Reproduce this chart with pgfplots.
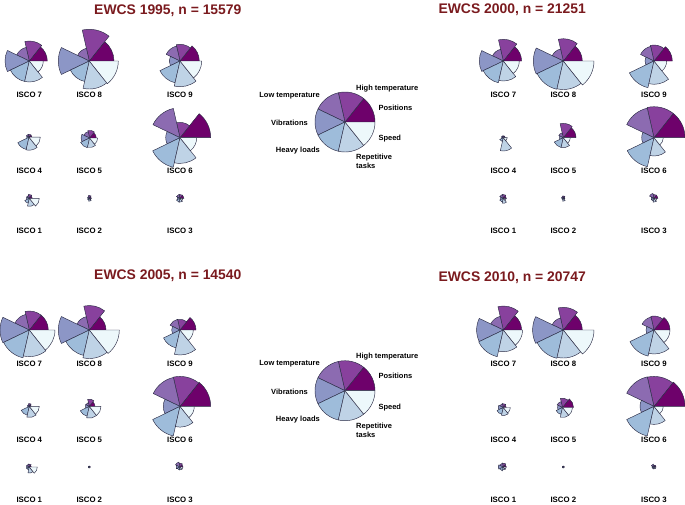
\documentclass[border=0pt]{standalone}
\usepackage{fontspec}
\setmainfont{Liberation Sans}
\usepackage{pgfplots}
\usepackage{pgfplotstable}
\pgfplotsset{compat=1.18}

\definecolor{cPos}{HTML}{6E016B}
\definecolor{cHit}{HTML}{88419D}
\definecolor{cLot}{HTML}{8C6BB1}
\definecolor{cVib}{HTML}{8C96C6}
\definecolor{cHea}{HTML}{9EBCDA}
\definecolor{cRep}{HTML}{BFD3E6}
\definecolor{cSpe}{HTML}{EDF8FB}
\definecolor{edge}{HTML}{2B2B45}
\definecolor{ttl}{HTML}{7A1A1E}

\pgfdeclareplotmark{blank}{}

% columns: centre x, centre y (picture pixels from top), radius of each of 7 wedges
\pgfplotstableread{
isco cx cy pos hit lot vib hea rep spe
7 29.3 61 18 20 14 24.3 21 21 14
8 89.3 61 24.7 31.7 13 31 21 28 29
9 180 61 19.3 16.7 15.3 10.7 22.3 25.7 21.7
4 29 137.2 3 3 3 2.5 12.5 13 11.3
5 89.6 138 6.7 7.7 6.5 8.5 10 9.5 8
6 180 137.7 30.7 15.3 30 14.3 30.3 25.7 16.7
1 29.3 198.3 3 4 3 3 5 8 10
2 89.3 198.3 2 3 2 1.5 2 3 2
3 180 198.3 4 4 4 3 4 4 3
}\tabA
\pgfplotstableread{
isco cx cy pos hit lot vib hea rep spe
7 503.3 61 18.3 21.7 12 24 22.3 20 16
8 563.3 61 19 22.3 12.3 30 29 28.5 30.7
9 654 61 18.3 16 15 9 27.3 23.3 12.7
4 503.3 137.7 2 2 2 2 4 13.3 4
5 563.3 137.7 12.7 14.3 5 4 10 10 7
6 654 137.7 31 31 30.3 12.3 29.7 18.3 9.3
1 503.3 198.3 3 4 4 3 4 5 3
2 563.3 198.3 1.5 2.5 2 1.5 1.5 3 1.5
3 654 198.3 4 4 5 3 3 4 3
}\tabB
\pgfplotstableread{
isco cx cy pos hit lot vib hea rep spe
7 29.3 330 19 19 16 29.3 28.5 26.6 25.7
8 89.3 330 16.7 24.5 13.7 31 26 28.5 30
9 180 330 16 10.7 11 8.3 18.3 25 13.3
4 29.3 406.4 2 3 2 2 9 11 10
5 89.3 406.4 5.7 7.3 4 4 10 11.7 11.7
6 180 406.4 30.7 30 29.7 16.7 30.3 20.7 14.3
1 29.3 467 2 3 3 3 3 6 8
2 89.3 467 1 1 1 1 1 1 1
3 180 467 3 4 5 4 3 3 3
}\tabC
\pgfplotstableread{
isco cx cy pos hit lot vib hea rep spe
7 503.3 330 18.3 24 14 26.7 27.3 21.7 19.3
8 563.3 330 19 22.7 12.3 30.7 29 28 30.7
9 654 330 16 14 13.3 8 26.7 24 16
4 503.3 407.5 3 4 4 5 7 8 7
5 562.5 407.5 11 9.3 6 5 7 10 10
6 654 406.4 31 30 30.3 14 30.3 18 9.3
1 503.3 467 3 4 4 5 4 3 3
2 563.3 467 1 1 1 1 1 1 1
3 654 467 2 2 3 2 2 2 2
}\tabD
\pgfplotstableread{
cx cy pos hit lot vib hea rep spe
345 122 30 30 30 30 30 30 30
345 390.7 30 30 30 30 30 30 30
}\tabL

\pgfplotsset{
  wedge/.style 2 args={only marks, mark=blank, scatter, point meta=explicit symbolic,
    scatter/@pre marker code/.code={%
      \filldraw[fill=#2,draw=edge,line width=0.45pt,line join=round]
        (0pt,0pt) -- (#1:\pgfplotspointmeta pt) arc[start angle=#1,delta angle=51.4286,radius=\pgfplotspointmeta pt] -- cycle;},
    scatter/@post marker code/.code={}},
}
\newcommand\rose[1]{%
  \addplot[wedge={0}{cPos}] table[x=cx,y=cy,meta=pos]{#1};
  \addplot[wedge={51.4286}{cHit}] table[x=cx,y=cy,meta=hit]{#1};
  \addplot[wedge={102.857}{cLot}] table[x=cx,y=cy,meta=lot]{#1};
  \addplot[wedge={154.286}{cVib}] table[x=cx,y=cy,meta=vib]{#1};
  \addplot[wedge={205.714}{cHea}] table[x=cx,y=cy,meta=hea]{#1};
  \addplot[wedge={257.143}{cRep}] table[x=cx,y=cy,meta=rep]{#1};
  \addplot[wedge={308.571}{cSpe}] table[x=cx,y=cy,meta=spe]{#1};
}
\newcommand\lfont{\fontsize{7.5}{9}\selectfont\bfseries}
\newcommand\ifont{\fontsize{7.8}{9}\selectfont\bfseries}
\newcommand\tfont{\fontsize{13.9}{16}\selectfont\bfseries}

\begin{document}
\begin{tikzpicture}
\begin{axis}[x=1pt,y=1pt,y dir=reverse,xmin=0,xmax=685,ymin=0,ymax=504,
  hide axis,clip=false,
  every node/.append style={inner sep=0pt,outer sep=0pt}]
\rose{\tabA}
\rose{\tabB}
\rose{\tabC}
\rose{\tabD}
\rose{\tabL}
% titles
\node[font=\tfont,text=ttl,anchor=base west] at (axis cs:90.7,14.5) {EWCS 1995, n = 15579};
\node[font=\tfont,text=ttl,anchor=base east] at (axis cs:589.3,13.5) {EWCS 2000, n = 21251};
\node[font=\tfont,text=ttl,anchor=base west] at (axis cs:90.7,279.5) {EWCS 2005, n = 14540};
\node[font=\tfont,text=ttl,anchor=base east] at (axis cs:589.3,281) {EWCS 2010, n = 20747};
% ISCO labels 1995
\node[font=\ifont,anchor=base] at (axis cs:29.3,97.6) {ISCO 7};
\node[font=\ifont,anchor=base] at (axis cs:89.3,97.6) {ISCO 8};
\node[font=\ifont,anchor=base] at (axis cs:180,97.6) {ISCO 9};
\node[font=\ifont,anchor=base] at (axis cs:29.3,173.4) {ISCO 4};
\node[font=\ifont,anchor=base] at (axis cs:89.3,173.4) {ISCO 5};
\node[font=\ifont,anchor=base] at (axis cs:180,173.4) {ISCO 6};
\node[font=\ifont,anchor=base] at (axis cs:29.3,233.8) {ISCO 1};
\node[font=\ifont,anchor=base] at (axis cs:89.3,233.8) {ISCO 2};
\node[font=\ifont,anchor=base] at (axis cs:180,233.8) {ISCO 3};
% 2000
\node[font=\ifont,anchor=base] at (axis cs:503.3,97.6) {ISCO 7};
\node[font=\ifont,anchor=base] at (axis cs:563.3,97.6) {ISCO 8};
\node[font=\ifont,anchor=base] at (axis cs:654,97.6) {ISCO 9};
\node[font=\ifont,anchor=base] at (axis cs:503.3,173.4) {ISCO 4};
\node[font=\ifont,anchor=base] at (axis cs:563.3,173.4) {ISCO 5};
\node[font=\ifont,anchor=base] at (axis cs:654,173.4) {ISCO 6};
\node[font=\ifont,anchor=base] at (axis cs:503.3,233.8) {ISCO 1};
\node[font=\ifont,anchor=base] at (axis cs:563.3,233.8) {ISCO 2};
\node[font=\ifont,anchor=base] at (axis cs:654,233.8) {ISCO 3};
% 2005
\node[font=\ifont,anchor=base] at (axis cs:29.3,366.6) {ISCO 7};
\node[font=\ifont,anchor=base] at (axis cs:89.3,366.6) {ISCO 8};
\node[font=\ifont,anchor=base] at (axis cs:180,366.6) {ISCO 9};
\node[font=\ifont,anchor=base] at (axis cs:29.3,442) {ISCO 4};
\node[font=\ifont,anchor=base] at (axis cs:89.3,442) {ISCO 5};
\node[font=\ifont,anchor=base] at (axis cs:180,442) {ISCO 6};
\node[font=\ifont,anchor=base] at (axis cs:29.3,502.3) {ISCO 1};
\node[font=\ifont,anchor=base] at (axis cs:89.3,502.3) {ISCO 2};
\node[font=\ifont,anchor=base] at (axis cs:180,502.3) {ISCO 3};
% 2010
\node[font=\ifont,anchor=base] at (axis cs:503.3,366.6) {ISCO 7};
\node[font=\ifont,anchor=base] at (axis cs:563.3,366.6) {ISCO 8};
\node[font=\ifont,anchor=base] at (axis cs:654,366.6) {ISCO 9};
\node[font=\ifont,anchor=base] at (axis cs:503.3,442) {ISCO 4};
\node[font=\ifont,anchor=base] at (axis cs:563.3,442) {ISCO 5};
\node[font=\ifont,anchor=base] at (axis cs:654,442) {ISCO 6};
\node[font=\ifont,anchor=base] at (axis cs:503.3,502.3) {ISCO 1};
\node[font=\ifont,anchor=base] at (axis cs:563.3,502.3) {ISCO 2};
\node[font=\ifont,anchor=base] at (axis cs:654,502.3) {ISCO 3};
% legend 1
\node[font=\lfont,anchor=base west] at (axis cs:352.7,90) {High temperature};
\node[font=\lfont,anchor=base west] at (axis cs:375,110) {Positions};
\node[font=\lfont,anchor=base west] at (axis cs:375,140.4) {Speed};
\node[font=\lfont,anchor=base west] at (axis cs:352.7,159.4) {Repetitive};
\node[font=\lfont,anchor=base west] at (axis cs:352.7,168.7) {tasks};
\node[font=\lfont,anchor=base east] at (axis cs:323.3,152.7) {Heavy loads};
\node[font=\lfont,anchor=base east] at (axis cs:311.3,125.4) {Vibrations};
\node[font=\lfont,anchor=base east] at (axis cs:323.3,97) {Low temperature};
% legend 2
\node[font=\lfont,anchor=base west] at (axis cs:352.7,358.7) {High temperature};
\node[font=\lfont,anchor=base west] at (axis cs:375,378.7) {Positions};
\node[font=\lfont,anchor=base west] at (axis cs:375,409.1) {Speed};
\node[font=\lfont,anchor=base west] at (axis cs:352.7,428.1) {Repetitive};
\node[font=\lfont,anchor=base west] at (axis cs:352.7,437.4) {tasks};
\node[font=\lfont,anchor=base east] at (axis cs:323.3,421.4) {Heavy loads};
\node[font=\lfont,anchor=base east] at (axis cs:311.3,394.1) {Vibrations};
\node[font=\lfont,anchor=base east] at (axis cs:323.3,365.7) {Low temperature};
\end{axis}
\pgfresetboundingbox
\path[use as bounding box] (current axis.south west) rectangle (current axis.north east);
\end{tikzpicture}
\end{document}
